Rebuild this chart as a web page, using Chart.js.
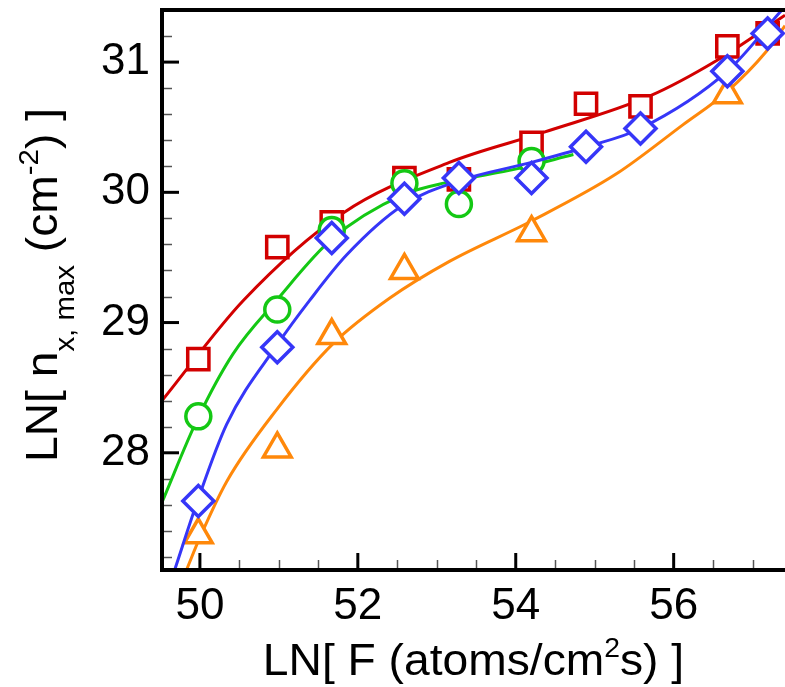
<!DOCTYPE html>
<html>
<head>
<meta charset="utf-8">
<title>LN n_x,max vs LN F</title>
<script src="https://cdn.jsdelivr.net/npm/chart.js@4.4.1/dist/chart.umd.min.js"></script>
<style>
  html, body { margin: 0; padding: 0; background: #fff; }
  canvas { display: block; }
</style>
</head>
<body>
<canvas id="plot" width="785" height="687"></canvas>
<script>
// ---- measured points: ln of flux vs ln of peak cluster density ----
const lnFlux      = [49.98, 50.98, 51.67, 52.59, 53.28, 54.20, 54.89, 55.58, 56.68, 57.19];
const redVals     = [28.72, 29.58, 29.77, 30.11, 30.10, 30.38, 30.68, 30.66, 31.12, 31.22];
const greenFlux   = [49.98, 50.98, 51.67, 52.59, 53.28, 54.20];
const greenVals   = [28.28, 29.10, 29.71, 30.07, 29.91, 30.24];
const blueVals    = [27.63, 28.81, 29.65, 29.95, 30.11, 30.11, 30.35, 30.49, 30.93, 31.22];
const orangeFlux  = [49.98, 50.98, 51.67, 52.59, 54.20, 56.68];
const orangeVals  = [27.37, 28.03, 28.90, 29.40, 29.69, 30.75];

// ---- fitted curves (sampled along each fit) ----
const redFitX    = [49.52, 50.55, 51.81, 53.16, 54.35, 55.70, 56.54, 57.41];
const redFitY    = [28.40, 29.17, 29.84, 30.23, 30.46, 30.74, 31.01, 31.36];
const greenFitX  = [49.52, 49.97, 50.42, 50.97, 51.67, 52.57, 53.16, 54.01, 54.73];
const greenFitY  = [27.62, 28.26, 28.76, 29.17, 29.64, 29.98, 30.08, 30.18, 30.29];
const blueFitX   = [49.68, 49.97, 50.34, 50.98, 51.39, 51.86, 52.57, 53.29, 54.20, 54.90, 55.58, 56.68, 57.37];
const blueFitY   = [27.10, 27.63, 28.22, 28.83, 29.17, 29.52, 29.90, 30.09, 30.23, 30.35, 30.49, 30.93, 31.40];
const orangeFitX = [49.83, 50.00, 50.34, 50.97, 51.69, 52.41, 53.16, 54.20, 55.27, 56.12, 56.67, 57.17, 57.41];
const orangeFitY = [27.10, 27.35, 27.78, 28.33, 28.84, 29.19, 29.47, 29.78, 30.14, 30.52, 30.77, 31.08, 31.28];

// ---- axes ----
const xTicks = [50, 52, 54, 56];
const yTicks = [28, 29, 30, 31];
const X_MIN = 49.52, X_MAX = 57.41;
const Y_MIN = 27.10, Y_MAX = 31.40;

const FONT = "'Liberation Sans', Arial, Helvetica, sans-serif";
const RED = '#d20000', GREEN = '#14c814', BLUE = '#3636f8', ORANGE = '#ff880a';

const pts = (xs, ys) => xs.map((x, i) => ({ x: x, y: ys[i] }));

function fitSet(xs, ys, color, order) {
  return {
    data: pts(xs, ys), showLine: true, borderColor: color, borderWidth: 3,
    pointRadius: 0, pointHoverRadius: 0, cubicInterpolationMode: 'monotone',
    fill: false, order: order
  };
}
function markSet(xs, ys, color, style, r, order) {
  return {
    data: pts(xs, ys), showLine: false, pointStyle: style, pointRadius: r,
    pointHoverRadius: r, pointBorderColor: color, pointBackgroundColor: '#ffffff',
    pointBorderWidth: 3.5, pointHoverBorderWidth: 3.5, order: order
  };
}

// inward tick marks plus the frame lines
const frame = {
  id: 'frame',
  beforeDatasetsDraw(chart) {
    const { ctx, chartArea: a, scales: { x, y } } = chart;
    ctx.save();
    ctx.lineCap = 'butt';
    // minor ticks
    ctx.strokeStyle = '#555'; ctx.lineWidth = 1.5;
    for (let k = Math.ceil(Y_MIN / 0.2); k * 0.2 <= Y_MAX + 1e-9; k++) {
      const v = k * 0.2;
      if (Math.abs(v - Math.round(v)) < 1e-6) continue;
      const p = Math.round(y.getPixelForValue(v)) + 0.5;
      ctx.beginPath(); ctx.moveTo(a.left, p); ctx.lineTo(a.left + 10, p); ctx.stroke();
    }
    for (let k = Math.ceil(X_MIN / 0.5); k * 0.5 <= X_MAX + 1e-9; k++) {
      const v = k * 0.5;
      if (Math.abs(v / 2 - Math.round(v / 2)) < 1e-6) continue;
      const p = Math.round(x.getPixelForValue(v)) + 0.5;
      ctx.beginPath(); ctx.moveTo(p, a.bottom); ctx.lineTo(p, a.bottom - 10); ctx.stroke();
    }
    // major ticks
    ctx.strokeStyle = '#000'; ctx.lineWidth = 3;
    yTicks.forEach(v => {
      const p = y.getPixelForValue(v);
      ctx.beginPath(); ctx.moveTo(a.left, p); ctx.lineTo(a.left + 17, p); ctx.stroke();
    });
    xTicks.forEach(v => {
      const p = x.getPixelForValue(v);
      ctx.beginPath(); ctx.moveTo(p, a.bottom); ctx.lineTo(p, a.bottom - 17); ctx.stroke();
    });
    ctx.restore();
  },
  afterDatasetsDraw(chart) {
    const { ctx, chartArea: a } = chart;
    ctx.save();
    ctx.strokeStyle = '#000'; ctx.lineWidth = 4; ctx.lineCap = 'butt';
    ctx.beginPath();
    ctx.moveTo(a.right, a.top); ctx.lineTo(a.left, a.top);
    ctx.lineTo(a.left, a.bottom); ctx.lineTo(a.right, a.bottom);
    ctx.stroke();
    ctx.restore();
  }
};

// axis titles with sub/superscripts
function richText(ctx, parts, stretch) {
  let total = 0;
  parts.forEach(p => { ctx.font = p.size + 'px ' + FONT; p.w = ctx.measureText(p.text).width; total += p.w; });
  ctx.save();
  ctx.scale(stretch, 1);
  ctx.textAlign = 'left'; ctx.textBaseline = 'alphabetic'; ctx.fillStyle = '#000';
  let cx = -total / 2;
  parts.forEach(p => { ctx.font = p.size + 'px ' + FONT; ctx.fillText(p.text, cx, p.shift); cx += p.w; });
  ctx.restore();
}
const titles = {
  id: 'titles',
  afterDraw(chart) {
    const { ctx, chartArea: a } = chart;
    ctx.save();
    ctx.translate((a.left + a.right) / 2, 675);
    richText(ctx, [
      { text: 'LN[ F (atoms/cm', size: 44, shift: 0 },
      { text: '2', size: 27, shift: -18 },
      { text: 's) ]', size: 44, shift: 0 }
    ], 1.05);
    ctx.restore();

    ctx.save();
    ctx.translate(57, 285);
    ctx.rotate(-Math.PI / 2);
    richText(ctx, [
      { text: 'LN[ n', size: 44, shift: 0 },
      { text: 'x, max', size: 28, shift: 17 },
      { text: ' (cm', size: 44, shift: 0 },
      { text: '-2', size: 28, shift: -19 },
      { text: ') ]', size: 44, shift: 0 }
    ], 1.05);
    ctx.restore();
  }
};

new Chart(document.getElementById('plot'), {
  type: 'scatter',
  data: {
    datasets: [
      fitSet(redFitX, redFitY, RED, 8),
      markSet(lnFlux, redVals, RED, 'rect', 15, 7),
      fitSet(greenFitX, greenFitY, GREEN, 6),
      markSet(greenFlux, greenVals, GREEN, 'circle', 12.5, 5),
      fitSet(orangeFitX, orangeFitY, ORANGE, 4),
      markSet(orangeFlux, orangeVals, ORANGE, 'triangle', 16, 3),
      fitSet(blueFitX, blueFitY, BLUE, 2),
      markSet(lnFlux, blueVals, BLUE, 'rectRot', 15.5, 1)
    ]
  },
  options: {
    responsive: false,
    animation: false,
    devicePixelRatio: 1,
    events: [],
    layout: { autoPadding: false, padding: { top: 10, right: 0, bottom: 0, left: 0 } },
    plugins: { legend: { display: false }, tooltip: { enabled: false } },
    scales: {
      x: {
        type: 'linear', position: 'bottom', min: X_MIN, max: X_MAX,
        grid: { display: false, drawTicks: false }, border: { display: false },
        ticks: { color: '#000', font: { family: FONT, size: 44 }, padding: 10, autoSkip: false, maxRotation: 0 },
        afterBuildTicks: s => { s.ticks = xTicks.map(v => ({ value: v })); },
        afterFit: s => { s.height = 117; s.paddingLeft = 0; s.paddingRight = 0; }
      },
      y: {
        type: 'linear', position: 'left', min: Y_MIN, max: Y_MAX,
        grid: { display: false, drawTicks: false }, border: { display: false },
        ticks: { color: '#000', font: { family: FONT, size: 44 }, padding: 12, autoSkip: false },
        afterBuildTicks: s => { s.ticks = yTicks.map(v => ({ value: v })); },
        afterFit: s => { s.width = 162; s.paddingTop = 0; s.paddingBottom = 0; }
      }
    }
  },
  plugins: [frame, titles]
});
</script>
</body>
</html>
